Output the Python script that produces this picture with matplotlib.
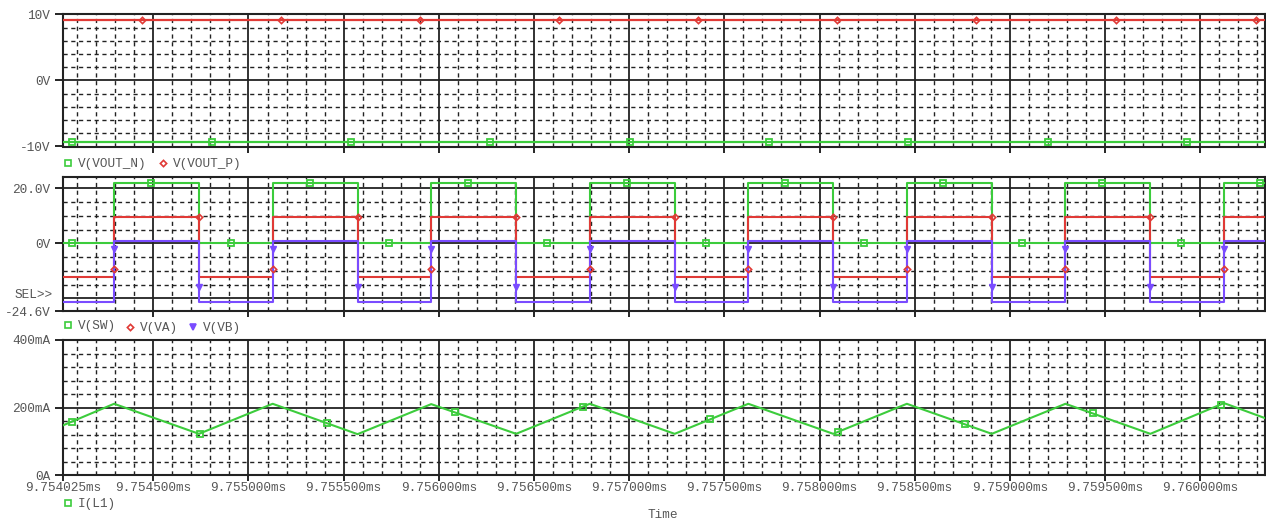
import numpy as np
import matplotlib
matplotlib.use("Agg")
import matplotlib.pyplot as plt
from matplotlib.lines import Line2D

# time window shown (ms)
t_start = 9.754025
t_stop = 9.760343

rise_t = [9.754294, 9.755127, 9.755960, 9.756793, 9.757626, 9.758459, 9.759292, 9.760125]
fall_t = [9.754740, 9.755573, 9.756406, 9.757239, 9.758072, 9.758905, 9.759738]

# output rails (V)
vout_p = 9.1
vout_n = -9.3

# low / high levels of the switching nodes (V)
sw_lo, sw_hi = 0.0, 21.8
va_lo, va_hi = -12.1, 9.7
vb_lo, vb_hi = -21.5, 0.9

# inductor current (mA): peaks at rising edges, valleys at falling edges
il_start, il_end = 147, 168
il_peak = [211, 211, 210, 211, 211, 211, 211, 213]
il_valley = [122, 121, 122, 122, 122, 122, 122]

# trace marker positions (ms)
mk_vout_p = [9.754442, 9.755171, 9.755901, 9.756631, 9.757362, 9.758092, 9.758822, 9.759558, 9.760293]
mk_vout_n = [9.754074, 9.754807, 9.755539, 9.756269, 9.757005, 9.757735, 9.758465, 9.759201, 9.759931]
mk_sw = [9.754074, 9.754490, 9.754906, 9.755322, 9.755738, 9.756154, 9.756570, 9.756986,
         9.757402, 9.757818, 9.758234, 9.758650, 9.759066, 9.759482, 9.759898, 9.760314]
mk_il = [9.754073, 9.754743, 9.755414, 9.756084, 9.756755, 9.757425, 9.758095, 9.758766,
         9.759436, 9.760107]
# marker values where VA / VB markers sit on the edges (V)
va_mk_rise, va_mk_fall = -9.3, 9.7
vb_mk_rise, vb_mk_fall = -2.1, -15.8

xtick_pos = [9.754025, 9.7545, 9.755, 9.7555, 9.756, 9.7565, 9.757, 9.7575,
             9.758, 9.7585, 9.759, 9.7595, 9.76]
xtick_lab = ["9.754025ms", "9.754500ms", "9.755000ms", "9.755500ms", "9.756000ms",
             "9.756500ms", "9.757000ms", "9.757500ms", "9.758000ms", "9.758500ms",
             "9.759000ms", "9.759500ms", "9.760000ms"]

RED = "#e03a36"
GREEN = "#3ccc3c"
BLUE = "#7a4cff"
TXT = "#555555"
FONT = "Liberation Mono"
FS = 9.2

plt.rcParams["font.family"] = [FONT, "DejaVu Sans"]


def edges():
    ev = [(t, 1) for t in rise_t] + [(t, 0) for t in fall_t]
    return sorted(ev)


def square(lo, hi):
    ts, vs = [t_start], [lo]
    for te, up in edges():
        a, b = (lo, hi) if up else (hi, lo)
        ts += [te, te]
        vs += [a, b]
    ts.append(t_stop)
    vs.append(vs[-1])
    return ts, vs


def level_at(t, lo, hi):
    n_up = sum(1 for r in rise_t if r <= t)
    n_dn = sum(1 for f in fall_t if f <= t)
    return hi if n_up > n_dn else lo


def setup(ax, ylim, minor_y, major_y, yticks, ylabels):
    ax.set_xlim(t_start, t_stop)
    ax.set_ylim(*ylim)
    dash = (0, (3, 2.6))
    for x in np.arange(9.7541, t_stop, 0.0001):
        if abs((x - 9.7545) / 0.0005 - round((x - 9.7545) / 0.0005)) < 1e-3:
            ax.axvline(x, color="#222222", lw=1.3, zorder=1)
        else:
            ax.axvline(x, color="#222222", lw=1.0, ls=dash, zorder=1)
    for y in minor_y:
        ax.axhline(y, color="#222222", lw=1.0, ls=dash, zorder=1)
    for y in major_y:
        ax.axhline(y, color="#222222", lw=1.3, zorder=1)
    ax.set_yticks(yticks)
    ax.set_yticklabels(ylabels)
    ax.tick_params(axis="y", length=6, width=1.2, pad=3, labelsize=FS, labelcolor=TXT)
    ax.tick_params(axis="x", length=4, width=1.2, direction="out")
    ax.set_xticks(xtick_pos[1:])
    ax.set_xticklabels([])
    for s in ax.spines.values():
        s.set_linewidth(1.5)
        s.set_color("#222222")


fig = plt.figure(figsize=(12.66, 5.21), dpi=100)
W, H = 1266.0, 521.0
left = 62.9 / W
width = (1265.5 - 62.9) / W

ax1 = fig.add_axes([left, (H - 146.5) / H, width, 132.2 / H])
ax2 = fig.add_axes([left, (H - 311.0) / H, width, 133.7 / H])
ax3 = fig.add_axes([left, (H - 475.0) / H, width, 135.0 / H])

setup(ax1, (-10, 10), [-8, -6, -4, -2, 2, 4, 6, 8], [0], [10, 0, -10], ["10V", "0V", "-10V"])
setup(ax2, (-24.6, 24.0), [-15, -10, -5, 5, 10, 15], [-20, 0, 20], [20, 0, -24.6],
      ["20.0V", "0V", "-24.6V"])
setup(ax3, (0, 400), [40, 80, 120, 160, 240, 280, 320, 360], [200], [400, 200, 0],
      ["400mA", "200mA", "0A"])

# top panel: output rails
ax1.plot([t_start, t_stop], [vout_p, vout_p], color=RED, lw=1.6, zorder=3)
ax1.plot([t_start, t_stop], [vout_n, vout_n], color=GREEN, lw=1.6, zorder=3)
ax1.plot(mk_vout_p, [vout_p] * len(mk_vout_p), ls="none", marker="D", ms=3.2,
         mfc="none", mec=RED, mew=1.2, zorder=4)
ax1.plot(mk_vout_n, [vout_n] * len(mk_vout_n), ls="none", marker="s", ms=5,
         mfc="none", mec=GREEN, mew=1.3, zorder=4)

# middle panel: switching nodes
for lo, hi, c in [(sw_lo, sw_hi, GREEN), (va_lo, va_hi, RED), (vb_lo, vb_hi, BLUE)]:
    ts, vs = square(lo, hi)
    ax2.plot(ts, vs, color=c, lw=1.5, zorder=3)
ax2.plot(mk_sw, [level_at(t, sw_lo, sw_hi) for t in mk_sw], ls="none", marker="s",
         ms=5, mfc="none", mec=GREEN, mew=1.3, zorder=4)
ax2.plot(rise_t, [va_mk_rise] * len(rise_t), ls="none", marker="D", ms=3.2,
         mfc="none", mec=RED, mew=1.2, zorder=4)
ax2.plot(fall_t, [va_mk_fall] * len(fall_t), ls="none", marker="D", ms=3.2,
         mfc="none", mec=RED, mew=1.2, zorder=4)
ax2.plot(rise_t, [vb_mk_rise] * len(rise_t), ls="none", marker="v", ms=5,
         color=BLUE, zorder=4)
ax2.plot(fall_t, [vb_mk_fall] * len(fall_t), ls="none", marker="v", ms=5,
         color=BLUE, zorder=4)

# bottom panel: inductor current
il_t = [t_start]
il_v = [il_start]
pk = list(zip(rise_t, il_peak))
vl = list(zip(fall_t, il_valley))
for t, v in sorted(pk + vl):
    il_t.append(t)
    il_v.append(v)
il_t.append(t_stop)
il_v.append(il_end)
ax3.plot(il_t, il_v, color=GREEN, lw=1.5, zorder=3)
ax3.plot(mk_il, np.interp(mk_il, il_t, il_v), ls="none", marker="s", ms=5,
         mfc="none", mec=GREEN, mew=1.3, zorder=4)
ax3.set_xticks(xtick_pos)
ax3.set_xticklabels(xtick_lab)
ax3.tick_params(axis="x", labelsize=FS, labelcolor=TXT, pad=1)


def fx(px):
    return px / W


def fy(py):
    return 1 - py / H


def legend_item(x, y, marker, color, label, filled=False):
    m = Line2D([fx(x)], [fy(y)], transform=fig.transFigure, ls="none", marker=marker,
               ms=5 if marker != "D" else 3.2, mec=color,
               mfc=color if filled else "none", mew=1.2)
    fig.add_artist(m)
    fig.text(fx(x + 10), fy(y + 1), label, fontsize=FS, color=TXT, va="center", ha="left")


legend_item(68, 163, "s", GREEN, "V(VOUT_N)")
legend_item(162.7, 163, "D", RED, "V(VOUT_P)")
legend_item(68, 325, "s", GREEN, "V(SW)")
legend_item(130, 327, "D", RED, "V(VA)")
legend_item(192.7, 327, "v", BLUE, "V(VB)", filled=True)
legend_item(68, 503, "s", GREEN, "I(L1)")

fig.text(fx(53), fy(295), "SEL>>", fontsize=FS, color=TXT, ha="right", va="center")
fig.text(fx(663), fy(515), "Time", fontsize=FS, color=TXT, ha="center", va="center")

fig.savefig("out.png", dpi=100)
